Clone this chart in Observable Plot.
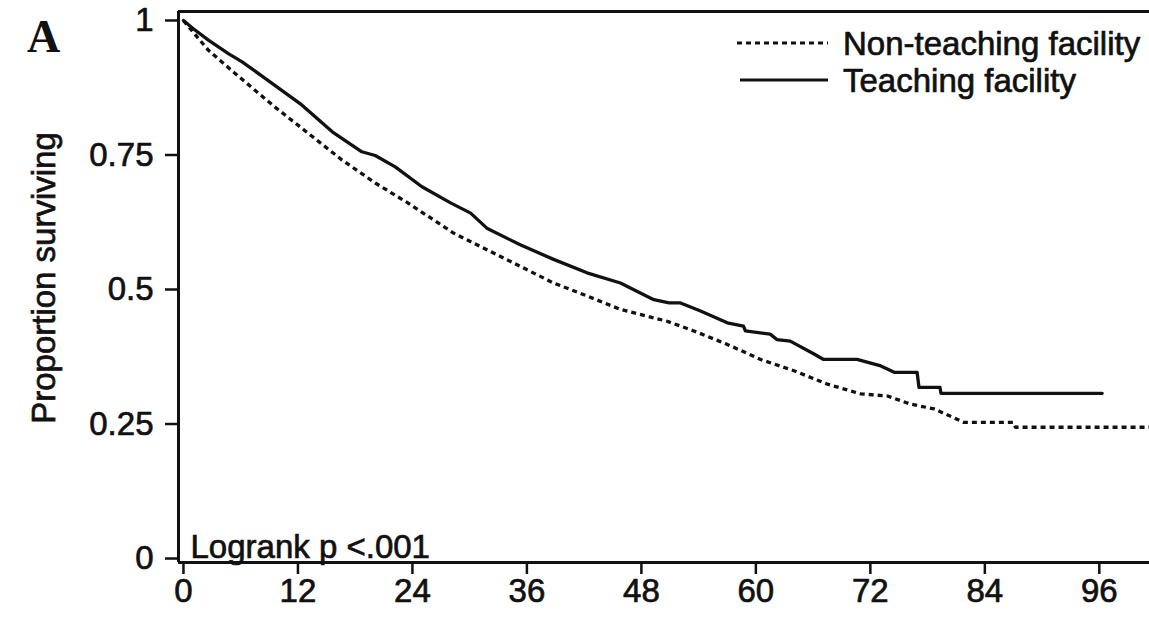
<!DOCTYPE html>
<html>
<head>
<meta charset="utf-8">
<script src="https://cdn.jsdelivr.net/npm/d3@7"></script>
<script src="https://cdn.jsdelivr.net/npm/@observablehq/plot@0.6"></script>
<style>
  html, body { margin: 0; padding: 0; background: #fff; }
  #wrap { position: relative; width: 1149px; height: 623px; }
  #overlay { position: absolute; left: 0; top: 0; pointer-events: none; }
  .sans { font-family: "Liberation Sans", Arial, sans-serif; font-size: 33px; fill: #111; stroke: #111; stroke-width: 0.7px; }
</style>
</head>
<body>
<div id="wrap"></div>
<script>
// ---- data ----
const seriesNames = ["Non-teaching facility", "Teaching facility"];

const teachMonths = [0, 1.0, 2.65, 4.75, 6.15, 8.6, 12.4, 15.6, 18.7, 20.1, 22.2, 25.0, 28.0, 30.1, 31.8, 35.3, 38.8, 42.3, 45.8, 49.3, 50.9, 52.1, 54.2, 57.0, 58.7, 58.9, 61.5, 62.2, 63.6, 66.1, 67.1, 70.6, 73.1, 74.5, 76.9, 77.1, 79.3, 79.4, 96.3];
const teachSurv   = [1.0, 0.985, 0.963, 0.938, 0.923, 0.892, 0.843, 0.793, 0.756, 0.749, 0.728, 0.691, 0.661, 0.642, 0.614, 0.583, 0.556, 0.531, 0.512, 0.481, 0.475, 0.475, 0.460, 0.438, 0.432, 0.423, 0.417, 0.407, 0.404, 0.380, 0.370, 0.370, 0.358, 0.346, 0.346, 0.318, 0.318, 0.307, 0.307];

const nonMonths = [0, 0.55, 2.65, 5.45, 9.6, 13.1, 16.6, 20.1, 23.6, 28.3, 31.8, 35.3, 38.8, 42.3, 45.8, 50.7, 53.5, 57.0, 60.5, 64.0, 67.5, 71.0, 73.8, 76.2, 78.7, 81.8, 87.0, 87.2, 101.3];
const nonSurv   = [1.0, 0.988, 0.944, 0.901, 0.839, 0.790, 0.741, 0.698, 0.660, 0.605, 0.574, 0.543, 0.512, 0.488, 0.463, 0.441, 0.423, 0.398, 0.370, 0.349, 0.324, 0.306, 0.302, 0.287, 0.278, 0.253, 0.253, 0.244, 0.244];

const xTicks = [0, 12, 24, 36, 48, 60, 72, 84, 96];
const yTicks = [0, 0.25, 0.5, 0.75, 1];
const yTickLabels = ["0", "0.25", "0.5", "0.75", "1"];
const xDomain = [-0.52, 101.26];
const yDomain = [-0.0074, 1.0167];
const annotation = "Logrank p <.001";
const panelLetter = "A";
const yLabel = "Proportion surviving";

// ---- build tables ----
const teach = teachMonths.map((m, i) => ({month: m, surv: teachSurv[i]}));
const nonTeach = nonMonths.map((m, i) => ({month: m, surv: nonSurv[i]}));

const font = "Liberation Sans, Arial, sans-serif";

const chart = Plot.plot({
  width: 1149,
  height: 623,
  marginLeft: 178,
  marginRight: 0,
  marginTop: 11,
  marginBottom: 61,
  style: {fontFamily: font, fontSize: "33px", color: "#111", background: "#fff", overflow: "visible"},
  x: {domain: xDomain},
  y: {domain: yDomain},
  marks: [
    Plot.axisX({ticks: xTicks, tickSize: 12, tickPadding: 4, strokeWidth: 2.5, fontSize: 33, label: null, tickFormat: d => String(d)}),
    Plot.axisY({ticks: yTicks, tickSize: 13, tickPadding: 12, strokeWidth: 2.5, fontSize: 33, label: null, tickFormat: d => yTickLabels[yTicks.indexOf(d)]}),
    Plot.ruleX([xDomain[0]], {stroke: "#111", strokeWidth: 3}),
    Plot.ruleY([yDomain[0]], {stroke: "#111", strokeWidth: 3}),
    Plot.ruleY([yDomain[1]], {stroke: "#111", strokeWidth: 3}),
    Plot.line(nonTeach, {x: "month", y: "surv", stroke: "#111", strokeWidth: 3.3, strokeDasharray: "5,4", strokeLinecap: "butt"}),
    Plot.line(teach, {x: "month", y: "surv", stroke: "#111", strokeWidth: 3.3}),
    Plot.text([annotation], {frameAnchor: "bottom-left", text: d => d, dx: 12, dy: -5, fontSize: 33, textAnchor: "start", fill: "#111"})
  ]
});
chart.querySelectorAll("text").forEach(t => { t.style.stroke = "#111"; t.style.strokeWidth = "0.7px"; });

const wrap = document.getElementById("wrap");
wrap.appendChild(chart);

// ---- overlay: panel letter, y label, legend ----
const ns = "http://www.w3.org/2000/svg";
const ov = document.createElementNS(ns, "svg");
ov.setAttribute("id", "overlay");
ov.setAttribute("width", 1149);
ov.setAttribute("height", 623);
function addText(str, attrs, cls) {
  const t = document.createElementNS(ns, "text");
  for (const k in attrs) t.setAttribute(k, attrs[k]);
  if (cls) t.setAttribute("class", cls);
  t.textContent = str;
  ov.appendChild(t);
  return t;
}
function addLine(x1, x2, y, dash) {
  const l = document.createElementNS(ns, "line");
  l.setAttribute("x1", x1); l.setAttribute("x2", x2);
  l.setAttribute("y1", y); l.setAttribute("y2", y);
  l.setAttribute("stroke", "#111"); l.setAttribute("stroke-width", 3);
  if (dash) l.setAttribute("stroke-dasharray", dash);
  ov.appendChild(l);
}
addText(panelLetter, {x: 27, y: 52, "font-family": "Liberation Serif, Times New Roman, serif", "font-weight": "bold", "font-size": 46, fill: "#111"});
addText(yLabel, {transform: "translate(55,278) rotate(-90)", "text-anchor": "middle"}, "sans");
addLine(737, 828, 43, "5,4");
addText(seriesNames[0], {x: 843, y: 55}, "sans");
addLine(740, 828, 80, null);
addText(seriesNames[1], {x: 843, y: 92}, "sans");
wrap.appendChild(ov);
</script>
</body>
</html>
